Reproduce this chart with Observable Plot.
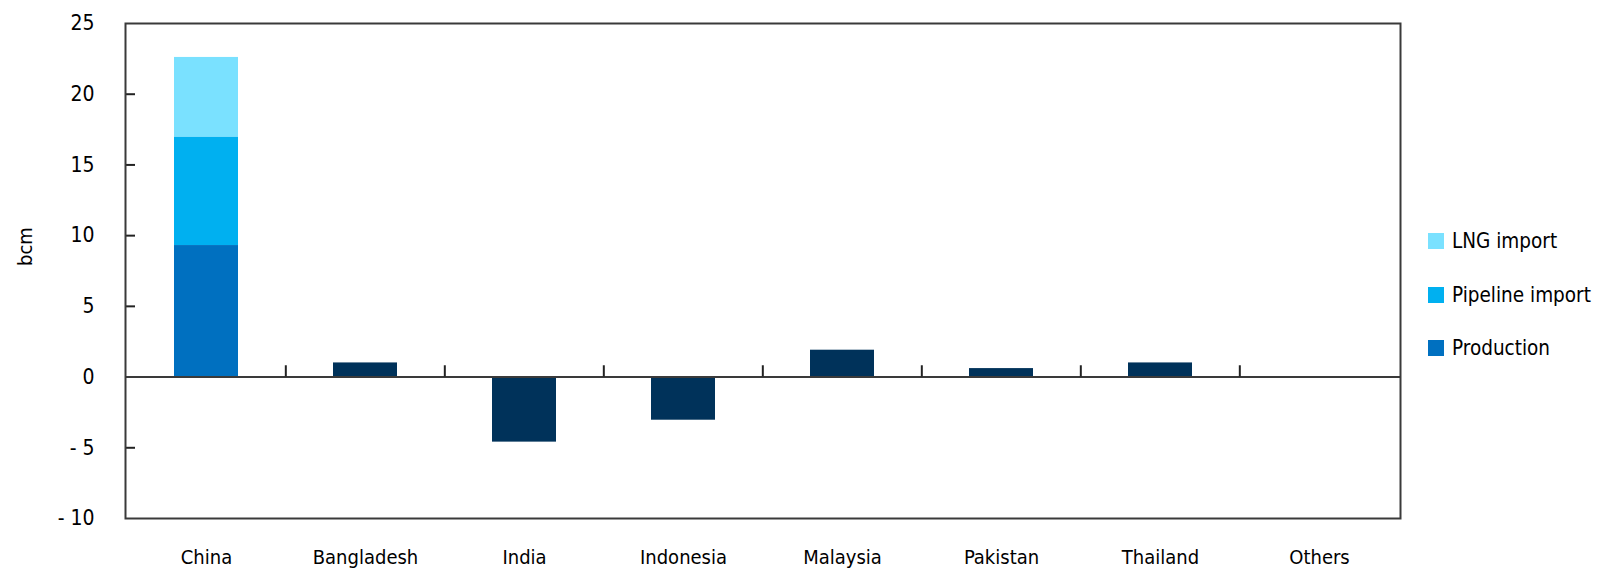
<!DOCTYPE html>
<html><head><meta charset="utf-8">
<script src="https://cdn.jsdelivr.net/npm/d3@7"></script>
<script src="https://cdn.jsdelivr.net/npm/@observablehq/plot@0.6"></script>
<style>
html,body{margin:0;padding:0;background:#fff;}
#wrap{position:relative;width:1600px;height:577px;font-family:"DejaVu Sans Condensed","Liberation Sans Narrow",sans-serif;}
#legend{position:absolute;left:1428px;top:226px;font-size:20.5px;color:#000;}
.item{display:flex;align-items:center;height:30px;margin-bottom:23.5px;white-space:nowrap;}
.sw{width:16px;height:16px;margin-right:8px;flex:none;}
</style></head><body><div id="wrap"><div id="legend"></div></div>
<script>
// ---- data ----
const countries = ["China","Bangladesh","India","Indonesia","Malaysia","Pakistan","Thailand","Others"];
const seriesNames = ["LNG import","Pipeline import","Production"]; // legend order, top to bottom
const seriesColors = ["#7AE1FF","#00B0F0","#0070C0"];
const chinaValues = [5.65, 7.65, 9.3]; // LNG import, Pipeline import, Production (bcm)
const otherValues = [1.0, -4.6, -3.05, 1.9, 0.6, 1.0, 0]; // Bangladesh ... Others (bcm)
const otherColor = "#00325A";
const yTicks = [-10, -5, 0, 5, 10, 15, 20, 25];
const yInnerTicks = [-5, 5, 10, 15, 20];

// ---- layout ----
const W = 1600, H = 577, ML = 125, MR = 200, MT = 23, MB = 59;
const frameW = W - ML - MR;
const step = frameW / countries.length;
const tickLen = 10;

const chinaData = seriesNames.map((s, i) => ({country: countries[0], series: s, value: chinaValues[i]}));
const otherData = countries.slice(1).map((c, i) => ({country: c, value: otherValues[i]}));
const fmt = d => d < 0 ? "- " + Math.abs(d) : String(d);

const chart = Plot.plot({
  width: W, height: H,
  marginLeft: ML, marginRight: MR, marginTop: MT, marginBottom: MB,
  style: {fontFamily: '"DejaVu Sans Condensed","Liberation Sans Narrow",sans-serif', fontSize: "20px", color: "#000", background: "#fff"},
  x: {domain: countries, paddingInner: 0.6, paddingOuter: 0.3, label: null},
  y: {domain: [-10, 25], label: null},
  color: {domain: seriesNames, range: seriesColors},
  marks: [
    Plot.barY(chinaData, {x: "country", y: "value", fill: "series", order: ["Production", "Pipeline import", "LNG import"]}),
    Plot.barY(otherData, {x: "country", y: "value", fill: otherColor}),
    Plot.ruleY([0], {stroke: "#3a3a3a", strokeWidth: 2}),
    Plot.ruleX(countries.slice(1), {x: d => d, y1: 0, y2: 0.8, dx: -step / 2, stroke: "#222", strokeWidth: 2}),
    Plot.axisY({ticks: yInnerTicks, tickSize: tickLen, dx: tickLen, tickFormat: () => "", label: null, stroke: "#222", strokeWidth: 2}),
    Plot.axisY({ticks: yTicks, tickSize: 0, tickPadding: 31, tickFormat: fmt, label: null, fill: "#000", fontSize: 21}),
    Plot.text(["bcm"], {frameAnchor: "left", rotate: -90, dx: -100, dy: -5, fill: "#000", fontSize: 20}),
    Plot.axisX({tickSize: 0, tickPadding: 31, label: null, fill: "#000"}),
    Plot.frame({stroke: "#3a3a3a", strokeWidth: 2})
  ]
});
document.getElementById("wrap").prepend(chart);

const legend = document.getElementById("legend");
seriesNames.forEach((s, i) => {
  const item = document.createElement("div");
  item.className = "item";
  const sw = document.createElement("span");
  sw.className = "sw";
  sw.style.background = seriesColors[i];
  const t = document.createElement("span");
  t.textContent = s;
  item.append(sw, t);
  legend.append(item);
});
</script></body></html>
